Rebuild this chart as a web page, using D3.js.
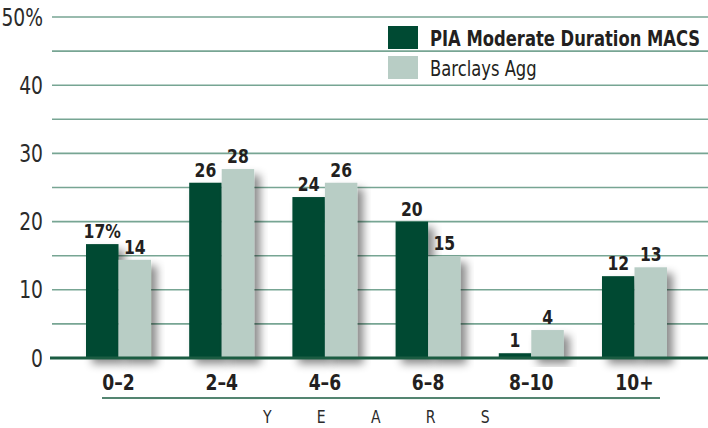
<!DOCTYPE html>
<html>
<head>
<meta charset="utf-8">
<script src="https://cdn.jsdelivr.net/npm/d3@7"></script>
<style>
  body { margin: 0; background: #fff; }
  svg { display: block; }
  text { font-family: "DejaVu Sans", sans-serif; fill: #231f20; }
</style>
</head>
<body>
<div id="chart"></div>
<script>
const categories = ['0–2', '2–4', '4–6', '6–8', '8–10', '10+']
const piaValues = [16.7, 25.7, 23.6, 20.0, 0.7, 12.0]
const aggValues = [14.4, 27.7, 25.7, 14.9, 4.1, 13.3]
const seriesNames = ['PIA Moderate Duration MACS', 'Barclays Agg']
const yTicks = [0, 10, 20, 30, 40, 50]
const gridTicks = [5, 10, 15, 20, 25, 30, 35, 40, 45, 50]

const width = 708
const height = 428
const darkGreen = '#004a33'
const lightGreen = '#b8cdc5'
const gridColor = '#77a593'
const squeeze = 0.78 // the original uses a condensed face

const svg = d3.select('#chart')
    .append('svg')
    .attr('width', width)
    .attr('height', height)

// drop shadow behind the bars
const filter = svg.append('defs').append('filter')
    .attr('id', 'shadow')
    .attr('x', '-20%').attr('y', '-10%')
    .attr('width', '160%').attr('height', '140%')
filter.append('feDropShadow')
    .attr('dx', 6).attr('dy', 6)
    .attr('stdDeviation', 4)
    .attr('flood-color', '#000')
    .attr('flood-opacity', 0.45)

const yScale = d3.scaleLinear()
    .domain([0, 50])
    .range([358, 17])

const xScale = d3.scaleBand()
    .domain(categories)
    .range([86, 667])
    .paddingInner(0.37)
    .paddingOuter(0)

const inner = d3.scaleBand()
    .domain([0, 1])
    .range([0, xScale.bandwidth()])

const place = (x, y) => `translate(${x},${y}) scale(${squeeze},1)`

// gridlines
svg.append('g')
    .selectAll('line')
    .data(gridTicks)
    .enter()
    .append('line')
    .attr('x1', 52)
    .attr('x2', width)
    .attr('y1', d => yScale(d))
    .attr('y2', d => yScale(d))
    .attr('stroke', gridColor)
    .attr('stroke-width', 1.6)

// y tick labels
svg.append('g')
    .selectAll('text')
    .data(yTicks)
    .enter()
    .append('text')
    .attr('transform', d => place(43, yScale(d)))
    .attr('dy', '0.36em')
    .attr('text-anchor', 'end')
    .attr('font-size', 24)
    .style('fill', '#2b2b2b')
    .text(d => d === 50 ? d + '%' : d)

// bars
const series = [piaValues, aggValues]
const colors = [darkGreen, lightGreen]
const groups = svg.append('g')
    .selectAll('g')
    .data(categories)
    .enter()
    .append('g')
    .attr('transform', d => `translate(${xScale(d)},0)`)

series.forEach((vals, s) => {
    groups.append('rect')
        .attr('x', inner(s))
        .attr('width', inner.bandwidth())
        .attr('y', (d, i) => yScale(vals[i]))
        .attr('height', (d, i) => yScale(0) - yScale(vals[i]))
        .attr('fill', colors[s])
        .attr('filter', 'url(#shadow)')
})
series.forEach((vals, s) => {
    groups.append('text')
        .attr('transform', (d, i) => place(inner(s) + inner.bandwidth() / 2, yScale(vals[i]) - 6))
        .attr('text-anchor', 'middle')
        .attr('font-size', 20)
        .attr('font-weight', 'bold')
        .text((d, i) => Math.round(vals[i]) + (i === 0 && s === 0 ? '%' : ''))
})

// baseline
svg.append('line')
    .attr('x1', 50)
    .attr('x2', width)
    .attr('y1', yScale(0))
    .attr('y2', yScale(0))
    .attr('stroke', '#1b5c42')
    .attr('stroke-width', 3)

// category labels
svg.append('g')
    .selectAll('text')
    .data(categories)
    .enter()
    .append('text')
    .attr('transform', d => place(xScale(d) + xScale.bandwidth() / 2, 390))
    .attr('text-anchor', 'middle')
    .attr('font-size', 22)
    .attr('font-weight', 'bold')
    .text(d => d)

svg.append('line')
    .attr('x1', 102)
    .attr('x2', 660)
    .attr('y1', 398)
    .attr('y2', 398)
    .attr('stroke', '#1b5c42')
    .attr('stroke-width', 1.5)

svg.append('text')
    .attr('transform', place(263, 423))
    .attr('font-size', 18)
    .attr('letter-spacing', '58px')
    .style('fill', '#2b2b2b')
    .text('YEARS')

// legend
const legend = svg.append('g')
    .selectAll('g')
    .data(seriesNames)
    .enter()
    .append('g')
    .attr('transform', (d, i) => `translate(388,${26 + i * 30})`)
legend.append('rect')
    .attr('width', 30)
    .attr('height', 23)
    .attr('fill', (d, i) => colors[i])
legend.append('text')
    .attr('transform', place(42, 12))
    .attr('dy', '0.36em')
    .attr('font-size', 21)
    .attr('font-weight', (d, i) => i === 0 ? 'bold' : 'normal')
    .text(d => d)
</script>
</body>
</html>
